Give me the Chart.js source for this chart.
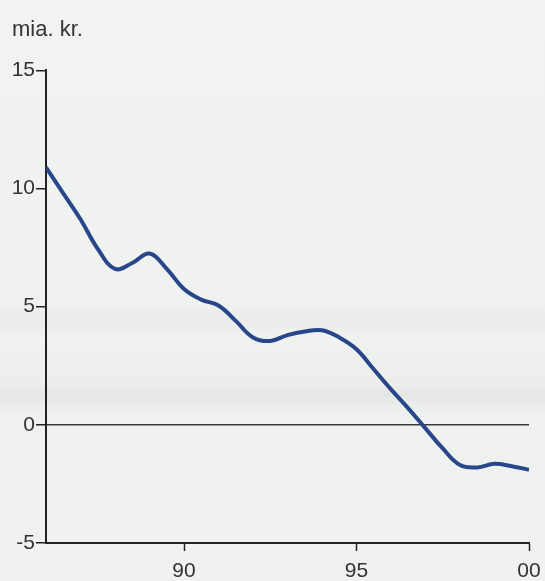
<!DOCTYPE html>
<html lang="da">
<head>
  <meta charset="UTF-8">
  <title>mia. kr.</title>
  <script src="https://cdn.jsdelivr.net/npm/chart.js"></script>
  <style>
    html, body { margin: 0; padding: 0; }
    body {
      width: 545px; height: 581px; overflow: hidden;
      background: linear-gradient(to bottom, #f1f3f0 0%, #eff2ef 52%, #e9ece9 55%, #eff2ef 58%, #eceeeb 66%, #e4e7e4 68%, #eef1ee 71%, #f0f2ef 100%);
    }
    #wrap { position: relative; width: 545px; height: 581px; }
  </style>
</head>
<body>
<div id="wrap">
  <canvas id="grafico"></canvas>
</div>
<script>
  // aar (86 = 1986, 100 = 2000) og saldo i mia. kr., aflaest halvaarligt
  const aar = [86, 86.5, 87, 87.5, 88, 88.5, 89, 89.5, 90, 90.5, 91, 91.5, 92, 92.5,
               93, 93.5, 94, 94.5, 95, 95.5, 96, 96.5, 97, 97.5, 98, 98.5, 99, 99.5, 100];
  const saldo = [10.9, 9.8, 8.7, 7.45, 6.6, 6.85, 7.25, 6.6, 5.75, 5.3, 5.05, 4.4, 3.7, 3.55,
                 3.8, 3.95, 4.0, 3.7, 3.2, 2.35, 1.5, 0.7, -0.15, -1.0, -1.7, -1.8, -1.65, -1.75, -1.9];
  const xTicks = [90, 95, 100];
  const xTickLabels = ['90', '95', '00'];
  const yTicks = [-5, 0, 5, 10, 15];

  const punkter = aar.map((a, i) => ({ x: a, y: saldo[i] }));

  const ctx = document.getElementById('grafico').getContext('2d');
  const skrift = 'Liberation Sans, Arial, sans-serif';

  const config = {
    type: 'line',
    data: {
      datasets: [{
        data: punkter,
        borderColor: '#28478b',
        borderWidth: 4,
        pointRadius: 0,
        tension: 0.4,
        fill: false
      }]
    },
    options: {
      responsive: false,
      animation: false,
      layout: { padding: { left: 12, right: 16, top: 0, bottom: 0 } },
      plugins: {
        legend: { display: false },
        tooltip: { enabled: false },
        title: {
          display: true,
          text: 'mia. kr.',
          align: 'start',
          color: '#333',
          font: { family: skrift, size: 22, weight: 'normal' },
          padding: { top: 17, bottom: 27 }
        }
      },
      scales: {
        x: {
          type: 'linear',
          min: 86,
          max: 100,
          afterBuildTicks: (axis) => { axis.ticks = xTicks.map(v => ({ value: v })); },
          afterFit: (axis) => {
            axis.height = 38;
            axis.paddingLeft = 0;
            axis.paddingRight = 0;
          },
          ticks: {
            color: '#333',
            font: { family: skrift, size: 21 },
            padding: 8,
            maxRotation: 0,
            autoSkip: false,
            callback: (v) => xTickLabels[xTicks.indexOf(v)]
          },
          grid: {
            drawOnChartArea: false,
            tickLength: 8,
            tickColor: '#222',
            tickWidth: 1.5
          },
          border: { display: true, color: '#222', width: 2 }
        },
        y: {
          min: -5,
          max: 15,
          afterBuildTicks: (axis) => { axis.ticks = yTicks.map(v => ({ value: v })); },
          afterFit: (axis) => { axis.width = 34; },
          ticks: {
            color: '#333',
            font: { family: skrift, size: 21 },
            padding: 1
          },
          grid: {
            tickLength: 10,
            tickColor: '#222',
            tickWidth: 1.5,
            lineWidth: 1.5,
            color: (c) => c.tick && c.tick.value === 0 ? '#3a3a3a' : 'rgba(0,0,0,0)'
          },
          border: { display: true, color: '#222', width: 2 }
        }
      }
    }
  };

  const canvas = document.getElementById('grafico');
  canvas.width = 545;
  canvas.height = 581;
  const myChart = new Chart(ctx, config);
</script>
</body>
</html>
